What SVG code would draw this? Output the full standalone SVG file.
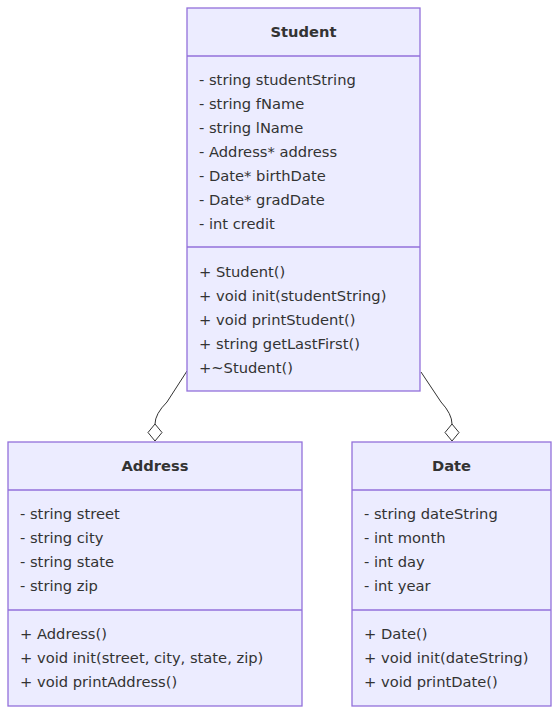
<svg xmlns="http://www.w3.org/2000/svg" width="559" height="714" viewBox="0 0 559 714">
<style>
.box{fill:#ECECFF;stroke:#9370DB;stroke-width:1.3}
.div{stroke:#9370DB;stroke-width:1.3}
text{font-family:"DejaVu Sans","Liberation Sans",sans-serif;font-size:14.7px;fill:#333;dominant-baseline:central}
.t{font-weight:bold;text-anchor:middle}
.edge{fill:none;stroke:#333;stroke-width:1}
.dia{fill:#fff;stroke:#333;stroke-width:1}
</style>
<rect width="559" height="714" fill="#fff"/>
<g id="edges">
<path class="edge" d="M187,371 L167,402 Q155,414 155,424"/>
<path class="dia" d="M155,424 L162,432.5 L155,441 L148,432.5 Z"/>
<path class="edge" d="M421,372 L441,402 Q452,414 452,424"/>
<path class="dia" d="M452,424 L459,432.5 L452,441 L445,432.5 Z"/>
</g>
<g id="Student">
<rect class="box" x="187" y="8" width="233" height="383"/>
<line class="div" x1="187" y1="56" x2="420" y2="56"/>
<line class="div" x1="187" y1="247" x2="420" y2="247"/>
<text class="t" x="303.5" y="31.5">Student</text>
<text x="199" y="79.5">- string studentString</text>
<text x="199" y="103.5">- string fName</text>
<text x="199" y="127.5">- string lName</text>
<text x="199" y="151.5">- Address* address</text>
<text x="199" y="175.5">- Date* birthDate</text>
<text x="199" y="199.5">- Date* gradDate</text>
<text x="199" y="223.5">- int credit</text>
<text x="199" y="271.5">+ Student()</text>
<text x="199" y="295.5">+ void init(studentString)</text>
<text x="199" y="319.5">+ void printStudent()</text>
<text x="199" y="343.5">+ string getLastFirst()</text>
<text x="199" y="367.5">+~Student()</text>
</g>
<g id="Address">
<rect class="box" x="8" y="442" width="294" height="264"/>
<line class="div" x1="8" y1="490" x2="302" y2="490"/>
<line class="div" x1="8" y1="610" x2="302" y2="610"/>
<text class="t" x="155" y="465.5">Address</text>
<text x="20" y="513.5">- string street</text>
<text x="20" y="537.5">- string city</text>
<text x="20" y="561.5">- string state</text>
<text x="20" y="585.5">- string zip</text>
<text x="20" y="633.5">+ Address()</text>
<text x="20" y="657.5">+ void init(street, city, state, zip)</text>
<text x="20" y="681.5">+ void printAddress()</text>
</g>
<g id="Date">
<rect class="box" x="352" y="442" width="199" height="264"/>
<line class="div" x1="352" y1="490" x2="551" y2="490"/>
<line class="div" x1="352" y1="610" x2="551" y2="610"/>
<text class="t" x="451.5" y="465.5">Date</text>
<text x="364" y="513.5">- string dateString</text>
<text x="364" y="537.5">- int month</text>
<text x="364" y="561.5">- int day</text>
<text x="364" y="585.5">- int year</text>
<text x="364" y="633.5">+ Date()</text>
<text x="364" y="657.5">+ void init(dateString)</text>
<text x="364" y="681.5">+ void printDate()</text>
</g>
</svg>
